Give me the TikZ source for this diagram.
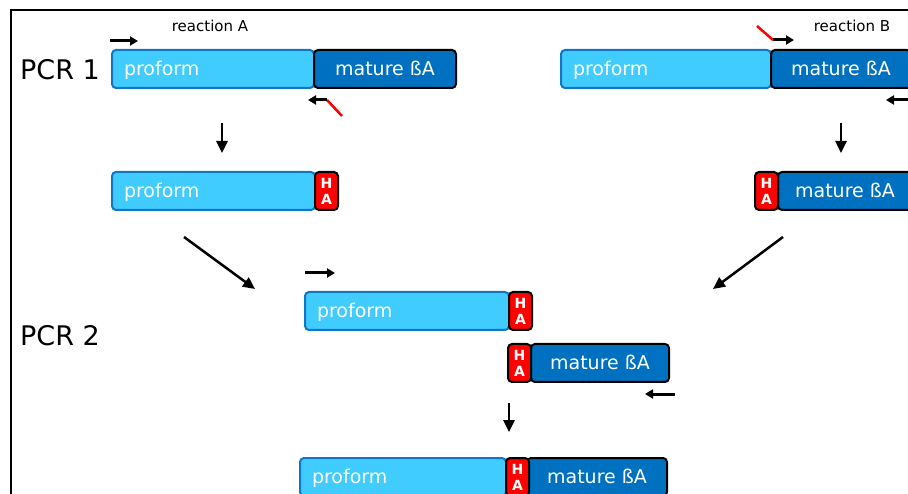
\documentclass[tikz,border=0pt]{standalone}
\usepackage{fontspec}
\setmainfont{DejaVu Sans}
\usepackage{tikz}
\usetikzlibrary{arrows.meta, positioning}
\definecolor{procyan} {RGB}{64, 204, 255}
\definecolor{proedge} {RGB}{16, 118, 200}
\definecolor{matblue} {RGB}{0,  112, 192}
\definecolor{hared}   {RGB}{255,  0,   0}

\begin{document}
\begin{tikzpicture}[x=1pt, y=-1pt,
  seg/.style={rounded corners=4pt, line width=2pt, minimum height=38pt,
    inner sep=0pt, outer sep=0pt, anchor=west, text=white,
    font=\fontsize{19}{19}\selectfont},
  pro/.style={seg, fill=procyan, draw=proedge, text width=#1-24pt,
    inner xsep=12pt, align=left, text height=15pt, text depth=2pt},
  mat/.style={seg, fill=matblue, draw=black, minimum width=#1,
    text height=15pt, text depth=2pt},
  tag/.style={seg, fill=hared, draw=black, minimum width=23pt,
    align=center, font=\fontsize{14}{16}\bfseries\selectfont},
  primer/.style={line width=3pt, -{Triangle[length=8pt, width=9pt]}},
  go/.style={line width=2.5pt, -{Triangle[length=12pt, width=11pt]}},
  redtail/.style={line width=2.5pt, hared},
  lbl/.style={font=\fontsize{27}{27}\selectfont},
  rxn/.style={font=\fontsize{15}{15}\selectfont}]
  \clip (0,0) rectangle (908,494);
  % frame
  \draw[line width=2pt] (11,10) rectangle (940,520);
  % labels
  \node[rxn] (rxnA) at (210,26) {reaction A};
  \node[rxn] (rxnB) at (852,26) {reaction B};
  \node[lbl] (pcr1) at (60,70) {PCR 1};
  \node[lbl] (pcr2) at (60,336) {PCR 2};
  % reaction A
  \node[pro=202] (proA) at (112,69) {proform};
  \node[mat=142] (matA) at (proA.east) {mature ßA};
  \node[pro=203] (proA2) at (112,191) {proform};
  \node[tag] (haA) at (proA2.east) {H\\A};
  % reaction B
  \node[pro=210] (proB) at (561,69) {proform};
  \node[mat=140] (matB) at (proB.east) {mature ßA};
  \node[mat=134] (matB2) at (778,191) {mature ßA};
  \node[tag, anchor=east] (haB) at (matB2.west) {H\\A};
  % PCR 2
  \node[pro=204] (proC) at (305,311) {proform};
  \node[tag] (haC) at (proC.east) {H\\A};
  \node[tag] (haC2) at (508,363) {H\\A};
  \node[mat=138] (matC) at (haC2.east) {mature ßA};
  % product
  \node[pro=206] (proD) at (300,477) {proform};
  \node[mat=140] (matD) at (527,477) {mature ßA};
  \node[tag] (haD) at (proD.east) {H\\A};
  % primers
  \coordinate (fwdA) at (110,41);  \coordinate (fwdA') at (138,41);
  \coordinate (revA) at (327,100); \coordinate (revA') at (308,100);
  \coordinate (tailA) at (342,116);
  \coordinate (tailB) at (757,26); \coordinate (fwdB) at (773,40);
  \coordinate (fwdB') at (794,40);
  \coordinate (revB) at (912,100); \coordinate (revB') at (886,100);
  \coordinate (fwdC) at (305,273); \coordinate (fwdC') at (335,273);
  \coordinate (revC) at (675,394); \coordinate (revC') at (645,394);
  \draw[primer] (fwdA) -- (fwdA');
  \draw[redtail] (revA) -- (tailA);
  \draw[primer] (revA) -- (revA');
  \draw[redtail] (tailB) -- (fwdB);
  \draw[primer] (fwdB) -- (fwdB');
  \draw[primer] (revB) -- (revB');
  \draw[primer] (fwdC) -- (fwdC');
  \draw[primer] (revC) -- (revC');
  % steps
  \coordinate (dnA) at (222,123);  \coordinate (dnA') at (222,153);
  \coordinate (dnB) at (841,123);  \coordinate (dnB') at (841,153);
  \coordinate (inA) at (184,237);  \coordinate (inA') at (255,289);
  \coordinate (inB) at (783,237);  \coordinate (inB') at (713,289);
  \coordinate (dnD) at (509,403);  \coordinate (dnD') at (509,432);
  \draw[go] (dnA) -- (dnA');
  \draw[go] (dnB) -- (dnB');
  \draw[go] (inA) -- (inA');
  \draw[go] (inB) -- (inB');
  \draw[go] (dnD) -- (dnD');
\end{tikzpicture}
\end{document}
